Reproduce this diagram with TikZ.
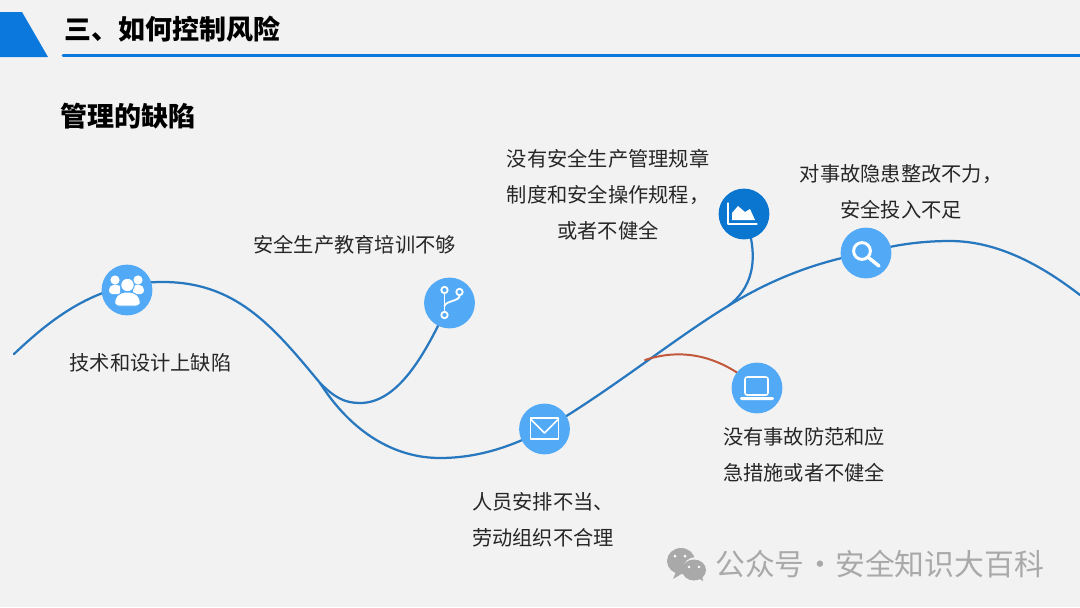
\documentclass[tikz,border=0pt]{standalone}
\usepackage{fontspec}
\setmainfont{Noto Sans CJK SC}
\usepackage{xcolor}
\usetikzlibrary{arrows.meta,positioning,calc}
\definecolor{RKPaper}{HTML}{F2F2F2}
\definecolor{RKHead}{HTML}{0A78DC}
\definecolor{RKLine}{HTML}{2878C0}
\definecolor{RKPale}{HTML}{52AAF6}
\definecolor{RKDark}{HTML}{0B76D0}
\definecolor{RKRed}{HTML}{C2573A}
\definecolor{RKInk}{HTML}{262626}
\definecolor{RKMark}{HTML}{A9A9A9}
\tikzset{
  iconnode/.style={circle,fill=RKPale,minimum size=1.27cm,inner sep=0pt},
  notetext/.style={align=center,inner sep=0pt,text=RKInk,font=\fontsize{14.4}{25.6}\selectfont},
  curveline/.style={RKLine,line width=1.6pt},
  iconline/.style={white,line width=0.9pt},
}
\begin{document}
\begin{tikzpicture}[x=0.025cm,y=-0.025cm,line cap=round,line join=round]
  \path[use as bounding box,fill=RKPaper] (0,0) rectangle (1080,607);

  % Header band and titles.
  \fill[RKHead] (0,12) -- (22,12) -- (48,57) -- (0,57) -- cycle;
  \draw[RKHead,line width=1.8pt] (63,55.5) -- (1080,55.5);
  \node[anchor=west,inner sep=0pt,font=\fontsize{19.2}{22}\selectfont\bfseries] (title) at (64,29)
    {三、如何控制风险};
  \node[anchor=west,inner sep=0pt,font=\fontsize{19.2}{22}\selectfont\bfseries] (subtitle) at (60.5,116)
    {管理的缺陷};

  % Points where the side branches leave the long curve.
  \coordinate (forkA) at (320,383);
  \coordinate (forkB) at (728,306);
  \coordinate (forkC) at (645,360);

  % Long curve and its branches, all under the icons.
  \draw[curveline] (14,354) .. controls (50,320) and (95,283) .. (160,282)
    .. controls (235,281) and (272,325) .. (forkA)
    .. controls (352,433) and (395,458) .. (440,458)
    .. controls (480,458) and (520,445) .. (560,420)
    .. controls (620,383) and (680,335) .. (forkB)
    .. controls (770,280) and (815,262) .. (866,253)
    .. controls (895,244) and (925,241) .. (950,241)
    .. controls (1000,241) and (1045,268) .. (1080,295);
  \draw[curveline] (forkA) .. controls (335,398) and (345,403) .. (360,403)
    .. controls (398,403) and (425,355) .. (449,303);
  \draw[curveline] (forkB) .. controls (750,290) and (762,262) .. (744,214);
  \draw[RKRed,line width=1.4pt] (forkC) .. controls (675,350) and (715,350) .. (757,388);

  % Icon discs.
  \node[iconnode] (team) at (127,290) {};
  \node[iconnode] (branch) at (449.5,303) {};
  \node[iconnode] (mail) at (544.5,429) {};
  \node[iconnode,fill=RKDark] (chart) at (744,214) {};
  \node[iconnode] (search) at (866,253) {};
  \node[iconnode] (laptop) at (757,388) {};

  % Three people.
  \begin{scope}[shift={(team)}]
    \fill[white] (-12,-10) circle[radius=4.6];
    \fill[white] (11,-10) circle[radius=4.6];
    \fill[white] (-18,0) .. controls (-18,-6) and (-10,-6) .. (-7,-4) -- (-7,4) -- (-15,4) .. controls (-17,4) and (-18,2) .. (-18,0) -- cycle;
    \fill[white] (17,0) .. controls (17,-6) and (9,-6) .. (6,-4) -- (6,4) -- (14,4) .. controls (16,4) and (17,2) .. (17,0) -- cycle;
    \fill[white,draw=RKPale,line width=0.7pt] (0.5,-5) circle[radius=6.8];
    \fill[white,draw=RKPale,line width=0.7pt] (-12,14) .. controls (-13,6) and (-8,2) .. (0.5,2) .. controls (9,2) and (14,6) .. (13,14)
      .. controls (12,16) and (10,16) .. (9,16) -- (-8,16) .. controls (-9,16) and (-11,16) .. (-12,14) -- cycle;
  \end{scope}

  % Branch mark.
  \begin{scope}[shift={(branch)}]
    \draw[iconline,line width=1.3pt] (-5,-9) -- (-5,7);
    \draw[iconline,line width=1.3pt] (-5,3) .. controls (-4,-2) and (10,-2) .. (10,-7);
    \draw[iconline,line width=1.3pt,fill=RKPale] (-5,-13) circle[radius=3.2];
    \draw[iconline,line width=1.3pt,fill=RKPale] (10,-11) circle[radius=3.2];
    \draw[iconline,line width=1.3pt,fill=RKPale] (-5,12) circle[radius=3.2];
  \end{scope}

  % Envelope.
  \begin{scope}[shift={(mail)}]
    \draw[iconline,line width=1.1pt] (-14,-11) rectangle (14,10);
    \draw[iconline,line width=1.1pt] (-14,-10) -- (0,4) -- (14,-10);
  \end{scope}

  % Area chart.
  \begin{scope}[shift={(chart)}]
    \draw[iconline] (-16,-11) -- (-16,10) -- (13,10);
    \fill[white] (-12,6) -- (-12,-1) -- (-6,-8) -- (1,-2) -- (6,-5) -- (11,6) -- cycle;
  \end{scope}

  % Magnifier.
  \begin{scope}[shift={(search)}]
    \draw[white,line width=2.1pt] (-4,-2) circle[radius=8.4];
    \draw[white,line width=2.4pt] (3,5) -- (13,13);
  \end{scope}

  % Laptop.
  \begin{scope}[shift={(laptop)}]
    \draw[iconline,line width=1.1pt,rounded corners=1.5pt] (-12,7) -- (-12,-11) -- (11,-11) -- (11,7) -- cycle;
    \fill[white,rounded corners=1pt] (-17,9) rectangle (17,12);
  \end{scope}

  % Labels of the six points.
  \node[notetext] (teamtext) at (150.5,363) {技术和设计上缺陷};
  \node[notetext] (branchtext) at (354.5,245) {安全生产教育培训不够};
  \node[notetext] (charttext) at (608,195) {没有安全生产管理规章\\制度和安全操作规程，\\或者不健全};
  \node[notetext] (searchtext) at (901,192) {对事故隐患整改不力，\\安全投入不足};
  \node[notetext] (laptoptext) at (804,455) {没有事故防范和应\\急措施或者不健全};
  \node[notetext] (mailtext) at (543,520) {人员安排不当、\\劳动组织不合理};

  % Channel mark at the lower right.
  \fill[RKMark] (681,561) ellipse [x radius=14,y radius=13];
  \fill[RKMark] (676,572) -- (673,579) -- (683,573) -- cycle;
  \fill[RKPaper] (696,569) ellipse [x radius=13,y radius=12];
  \fill[RKMark] (694,570) ellipse [x radius=12,y radius=10.5];
  \fill[RKMark] (698,578) -- (703,581) -- (702,574) -- cycle;
  \fill[white] (675,556) circle[radius=1.5];
  \fill[white] (685,556) circle[radius=1.5];
  \fill[white] (689,567) circle[radius=1.3];
  \fill[white] (699,567) circle[radius=1.3];
  \node[anchor=west,inner sep=0pt,text=RKMark,font=\fontsize{21.2}{24}\selectfont] (marktext) at (715,564)
    {公众号\hskip-4.5pt{} · \hskip-4.5pt{}安全知识大百科};
\end{tikzpicture}
\end{document}
